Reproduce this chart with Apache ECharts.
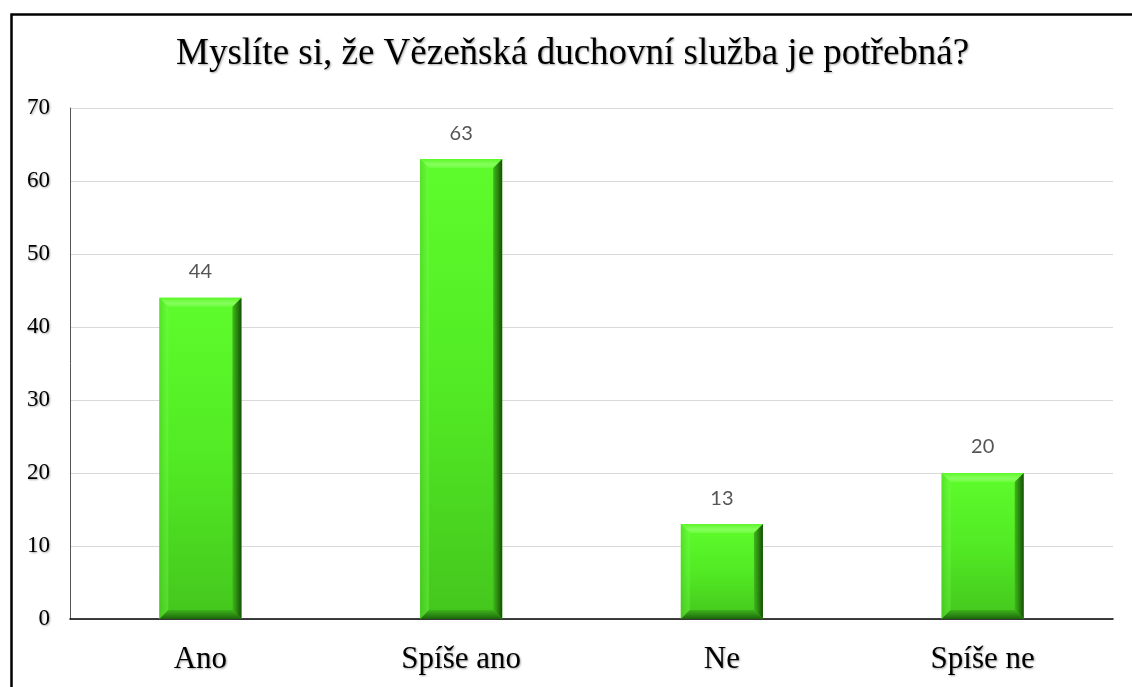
<!DOCTYPE html>
<html>
<head>
<meta charset="utf-8">
<script src="https://cdn.jsdelivr.net/npm/echarts@6/dist/echarts.min.js"></script>
<style>html,body{margin:0;padding:0;background:#fff;}#c{width:1132px;height:687px;}</style>
</head>
<body>
<div id="c"></div>
<script>
const titleText = 'Myslíte si, že Vězeňská duchovní služba je potřebná?';
const categories = ['Ano', 'Spíše ano', 'Ne', 'Spíše ne'];
const values = [44, 63, 13, 20];
const yTicks = { min: 0, max: 70, interval: 10 };

const chart = echarts.init(document.getElementById('c'), null, { renderer: 'canvas' });
const serif = '"Liberation Serif", "Times New Roman", serif';
const shadowText = { textShadowColor: 'rgba(0,0,0,0.35)', textShadowBlur: 2, textShadowOffsetX: 1, textShadowOffsetY: 1 };
const BAR_FRAC = 0.315;

function renderBevelBar(params, api) {
  const idx = api.value(0);
  const val = api.value(1);
  const top = api.coord([idx, val]);
  const base = api.coord([idx, 0]);
  const w = api.size([1, 0])[0] * BAR_FRAC;
  const x0 = top[0] - w / 2, x1 = top[0] + w / 2;
  const y0 = top[1], y1 = base[1];
  const h = y1 - y0;
  const b = Math.min(9, h / 2.5, w / 4);
  const face = new echarts.graphic.LinearGradient(0, 0, 0, 1, [
    { offset: 0, color: '#5efc2c' },
    { offset: 0.5, color: '#52ea24' },
    { offset: 1, color: '#44c61d' }
  ]);
  return {
    type: 'group',
    children: [
      { type: 'rect', shape: { x: x0, y: y0, width: w, height: h }, style: { fill: face } },
      { type: 'polygon', shape: { points: [[x0, y0], [x1, y0], [x1 - b, y0 + b], [x0 + b, y0 + b]] },
        style: { fill: new echarts.graphic.LinearGradient(0, 0, 0, 1, [{ offset: 0, color: '#5cf72a' }, { offset: 0.6, color: '#86ff5c' }, { offset: 1, color: '#6cfc3e' }]) } },
      { type: 'polygon', shape: { points: [[x0, y0], [x0 + b, y0 + b], [x0 + b, y1 - b], [x0, y1]] },
        style: { fill: new echarts.graphic.LinearGradient(0, 0, 1, 0, [{ offset: 0, color: 'rgba(70,200,30,0.5)' }, { offset: 1, color: 'rgba(120,255,80,0.35)' }]) } },
      { type: 'polygon', shape: { points: [[x1, y0], [x1, y1], [x1 - b, y1 - b], [x1 - b, y0 + b]] },
        style: { fill: new echarts.graphic.LinearGradient(1, 0, 0, 0, [{ offset: 0, color: '#164f06' }, { offset: 0.5, color: '#2a8810' }, { offset: 1, color: '#3fb81c' }]) } },
      { type: 'polygon', shape: { points: [[x0, y1], [x0 + b, y1 - b], [x1 - b, y1 - b], [x1, y1]] },
        style: { fill: new echarts.graphic.LinearGradient(0, 1, 0, 0, [{ offset: 0, color: '#1c640a' }, { offset: 0.5, color: '#2c8e13' }, { offset: 1, color: '#3db21b' }]) } }
    ]
  };
}

chart.setOption({
  backgroundColor: '#ffffff',
  animation: false,
  title: {
    text: titleText,
    left: 176,
    top: 36,
    padding: 0,
    textStyle: { fontFamily: serif, fontSize: 37, fontWeight: 'normal', color: '#000', ...shadowText }
  },
  graphic: [{
    type: 'rect', left: 9, top: 12, z: 100,
    shape: { x: 0, y: 0, width: 1300, height: 1000 },
    style: { fill: 'none', stroke: '#000', lineWidth: 2.5 }
  }],
  grid: { left: 70, right: 19, top: 108, bottom: 68 },
  xAxis: {
    type: 'category',
    data: categories,
    axisLine: { show: true, lineStyle: { color: '#000', width: 1.5 } },
    axisTick: { show: false },
    axisLabel: { fontFamily: serif, fontSize: 31, color: '#000', margin: 25, ...shadowText }
  },
  yAxis: {
    type: 'value',
    min: yTicks.min, max: yTicks.max, interval: yTicks.interval,
    axisLine: { show: true, lineStyle: { color: '#555', width: 1 } },
    axisTick: { show: false },
    splitLine: { lineStyle: { color: '#d9d9d9', width: 1.2 } },
    axisLabel: { fontFamily: serif, fontSize: 23, color: '#000', margin: 20, ...shadowText }
  },
  series: [
    {
      type: 'custom',
      renderItem: renderBevelBar,
      data: values.map((v, i) => [i, v]),
      encode: { x: 0, y: 1 },
      z: 3
    },
    {
      type: 'bar',
      data: values,
      barWidth: (BAR_FRAC * 100) + '%',
      itemStyle: { color: 'rgba(0,0,0,0)' },
      label: { show: true, position: 'top', distance: 16, fontFamily: 'Lato, "Open Sans", sans-serif', fontSize: 20, color: '#555555' },
      z: 4
    }
  ]
});
</script>
</body>
</html>
